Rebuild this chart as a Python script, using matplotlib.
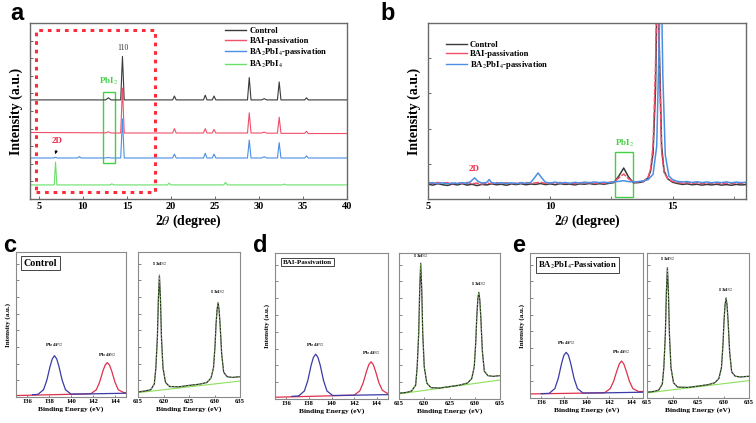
import matplotlib
matplotlib.use("Agg")
import matplotlib.pyplot as plt
from matplotlib.patches import Rectangle
from matplotlib.ticker import MultipleLocator, NullFormatter

plt.rcParams['font.family'] = ['Liberation Serif', 'DejaVu Serif']
plt.rcParams['mathtext.fontset'] = 'stix'

# ---------------- colours ----------------
C_BLACK = '#3a3a3a'
C_RED = '#f0506a'
C_BLUE = '#4a8fe6'
C_GREEN = '#6ae06a'
C_XBLUE = '#3a3aa8'
C_XRED = '#e0304c'
C_FIT = '#8be05a'
SPINE = '#6a6a6a'

# ---------------- panel a data (XRD, offset traces) ----------------
a_series = ['Control', 'BAI-passivation', r'BA$_2$PbI$_4$-passivation', r'BA$_2$PbI$_4$']
a_ctrl_x = [4, 12.6, 12.9, 13.2, 14.3, 14.5, 14.7, 20.2, 20.4, 20.6, 23.7, 23.9, 24.1, 24.7, 24.9, 25.1,
            28.7, 28.9, 29.1, 30.3, 30.6, 30.9, 32.1, 32.3, 32.5, 35.2, 35.4, 35.6, 40]
a_ctrl_y = [0.563, 0.563, 0.575, 0.563, 0.563, 0.81, 0.563, 0.563, 0.585, 0.563, 0.563, 0.59, 0.563, 0.563, 0.585, 0.563,
            0.563, 0.69, 0.563, 0.563, 0.57, 0.563, 0.563, 0.665, 0.563, 0.563, 0.575, 0.563, 0.563]
a_bai_x = [4, 12.6, 12.9, 13.2, 14.3, 14.5, 14.7, 20.2, 20.4, 20.6, 23.7, 23.9, 24.1, 24.7, 24.9, 25.1,
           28.7, 28.9, 29.1, 30.3, 30.6, 30.9, 32.1, 32.3, 32.5, 35.2, 35.4, 35.6, 40]
a_bai_y = [0.378, 0.376, 0.382, 0.375, 0.375, 0.63, 0.375, 0.375, 0.40, 0.375, 0.375, 0.40, 0.375, 0.375, 0.395, 0.375,
           0.375, 0.49, 0.375, 0.375, 0.38, 0.374, 0.374, 0.465, 0.373, 0.373, 0.385, 0.372, 0.372]
a_bap_x = [4, 6.7, 6.9, 7.1, 9.4, 9.6, 9.8, 12.6, 12.9, 13.2, 14.3, 14.5, 14.7, 20.2, 20.4, 20.6, 23.7, 23.9, 24.1,
           24.7, 24.9, 25.1, 28.7, 28.9, 29.1, 30.3, 30.6, 30.9, 32.1, 32.3, 32.5, 35.2, 35.4, 35.6, 40]
a_bap_y = [0.233, 0.233, 0.237, 0.233, 0.233, 0.241, 0.233, 0.233, 0.236, 0.233, 0.233, 0.455, 0.233, 0.233, 0.255, 0.233,
           0.233, 0.26, 0.233, 0.233, 0.255, 0.233, 0.233, 0.335, 0.233, 0.233, 0.24, 0.233, 0.233, 0.32, 0.233,
           0.233, 0.245, 0.233, 0.233]
a_2d_x = [4, 6.75, 6.9, 7.05, 13.1, 13.3, 13.5, 19.6, 19.8, 20.0, 26.0, 26.2, 26.4, 32.7, 32.9, 33.1, 40]
a_2d_y = [0.08, 0.08, 0.21, 0.08, 0.08, 0.086, 0.08, 0.08, 0.09, 0.08, 0.08, 0.095, 0.08, 0.08, 0.085, 0.08, 0.08]

# ---------------- panel b data (zoomed XRD, low angle) ----------------
b_ctrl_x = [5.0, 5.2, 5.4, 5.6, 5.8, 6.0, 6.2, 6.4, 6.6, 6.8, 7.0, 7.2, 7.4, 7.6, 7.8, 8.0, 8.2, 8.4, 8.6, 8.8,
            9.0, 9.2, 9.4, 9.6, 9.8, 10.0, 10.2, 10.4, 10.6, 10.8, 11.0, 11.2, 11.4, 11.6, 11.8, 12.0, 12.2, 12.4,
            12.6, 12.8, 13.0, 13.2, 13.4, 13.6, 13.8, 14.0, 14.1, 14.2, 14.3, 14.38, 14.45, 14.55, 14.65, 14.8,
            15.0, 15.2, 15.4, 15.6, 15.8, 16.0, 16.2, 16.4, 16.6, 16.8, 17.0, 17.2, 17.4, 17.6, 17.8, 18.0]
b_ctrl_y = [0.084, 0.079, 0.087, 0.081, 0.077, 0.085, 0.080, 0.087, 0.079, 0.084, 0.076, 0.083, 0.080, 0.086, 0.081,
            0.084, 0.078, 0.085, 0.082, 0.087, 0.081, 0.085, 0.083, 0.088, 0.082, 0.086, 0.081, 0.087, 0.083, 0.085,
            0.080, 0.086, 0.084, 0.088, 0.083, 0.087, 0.084, 0.089, 0.093, 0.13, 0.176, 0.125, 0.092, 0.093, 0.098,
            0.12, 0.16, 0.26, 0.62, 1.3, 0.9, 0.3, 0.16, 0.115, 0.095, 0.088, 0.083, 0.086, 0.081, 0.084, 0.079,
            0.083, 0.080, 0.084, 0.079, 0.082, 0.078, 0.083, 0.080, 0.082]
b_bai_x = b_ctrl_x
b_bai_y = [0.095, 0.088, 0.094, 0.089, 0.093, 0.087, 0.092, 0.088, 0.094, 0.087, 0.090, 0.085, 0.091, 0.087, 0.093,
           0.088, 0.092, 0.086, 0.091, 0.089, 0.094, 0.088, 0.092, 0.095, 0.089, 0.093, 0.088, 0.094, 0.089, 0.092,
           0.087, 0.093, 0.089, 0.094, 0.088, 0.092, 0.089, 0.095, 0.097, 0.12, 0.142, 0.115, 0.096, 0.097, 0.10,
           0.125, 0.17, 0.30, 0.75, 1.4, 0.8, 0.27, 0.15, 0.115, 0.1, 0.094, 0.09, 0.093, 0.088, 0.092, 0.087,
           0.091, 0.088, 0.092, 0.086, 0.091, 0.087, 0.092, 0.088, 0.091]
b_bap_x = [5.0, 5.2, 5.4, 5.6, 5.8, 6.0, 6.2, 6.4, 6.6, 6.75, 6.9, 7.05, 7.2, 7.4, 7.5, 7.6, 7.8, 8.0, 8.2, 8.4,
           8.6, 8.8, 9.0, 9.2, 9.35, 9.5, 9.65, 9.8, 10.0, 10.2, 10.4, 10.6, 10.8, 11.0, 11.2, 11.4, 11.6, 11.8,
           12.0, 12.2, 12.4, 12.6, 12.8, 13.0, 13.2, 13.4, 13.6, 13.8, 14.0, 14.2, 14.35, 14.45, 14.52, 14.6,
           14.7, 14.85, 15.0, 15.2, 15.4, 15.6, 15.8, 16.0, 16.2, 16.4, 16.6, 16.8, 17.0, 17.2, 17.4, 17.6,
           17.8, 18.0]
b_bap_y = [0.088, 0.093, 0.087, 0.092, 0.086, 0.091, 0.088, 0.093, 0.089, 0.10, 0.12, 0.10, 0.091, 0.094, 0.11,
           0.093, 0.089, 0.093, 0.088, 0.092, 0.087, 0.093, 0.089, 0.094, 0.12, 0.148, 0.12, 0.095, 0.091, 0.096,
           0.090, 0.094, 0.089, 0.095, 0.091, 0.096, 0.092, 0.097, 0.093, 0.096, 0.092, 0.098, 0.10, 0.104, 0.099,
           0.097, 0.099, 0.103, 0.11, 0.14, 0.3, 0.9, 1.4, 0.7, 0.25, 0.13, 0.11, 0.1, 0.097, 0.099, 0.094,
           0.098, 0.093, 0.097, 0.092, 0.096, 0.093, 0.097, 0.092, 0.096, 0.093, 0.095]

# ---------------- panels c-e data (XPS) ----------------
# Pb 4f region: blue = Pb 4f7/2 component, red = Pb 4f5/2 component
c_pb_blue_x = [136.5, 137.0, 137.5, 137.8, 138.1, 138.3, 138.5, 138.7, 138.9, 139.2, 139.5, 140.0, 142.0, 145.0]
c_pb_blue_y = [0.016, 0.018, 0.05, 0.115, 0.212, 0.263, 0.285, 0.263, 0.212, 0.115, 0.05, 0.02, 0.022, 0.026]
c_pb_red_x = [135.0, 141.8, 142.3, 142.6, 142.9, 143.1, 143.3, 143.5, 143.7, 144.0, 144.3, 144.8, 145.0]
c_pb_red_y = [0.010, 0.022, 0.05, 0.102, 0.179, 0.22, 0.237, 0.22, 0.179, 0.102, 0.05, 0.03, 0.03]
c_i_x = [615, 616.5, 617.5, 618.2, 618.5, 618.8, 619.0, 619.2, 619.4, 619.6, 619.9, 620.4, 621.2, 623, 625, 627,
         628.5, 629.3, 629.8, 630.1, 630.3, 630.5, 630.7, 630.9, 631.1, 631.4, 631.8, 632.5, 633.5, 635]
c_i_y = [0.035, 0.042, 0.05, 0.09, 0.2, 0.41, 0.68, 0.84, 0.68, 0.41, 0.2, 0.1, 0.072, 0.07, 0.08, 0.088,
         0.1, 0.13, 0.2, 0.35, 0.5, 0.6, 0.65, 0.6, 0.5, 0.3, 0.17, 0.14, 0.135, 0.14]

d_pb_blue_x = [136.5, 137.1, 137.6, 137.9, 138.2, 138.4, 138.6, 138.8, 139.0, 139.3, 139.6, 140.1, 142.0, 145.0]
d_pb_blue_y = [0.018, 0.021, 0.055, 0.125, 0.232, 0.285, 0.307, 0.285, 0.232, 0.125, 0.055, 0.024, 0.026, 0.03]
d_pb_red_x = [135.0, 142.0, 142.5, 142.8, 143.1, 143.3, 143.5, 143.7, 143.9, 144.2, 144.5, 144.9, 145.0]
d_pb_red_y = [0.012, 0.026, 0.055, 0.11, 0.19, 0.235, 0.255, 0.235, 0.19, 0.11, 0.06, 0.04, 0.04]
d_i_x = [615, 616.5, 617.5, 618.3, 618.6, 618.9, 619.1, 619.3, 619.5, 619.7, 620.0, 620.5, 621.3, 623, 625, 627,
         628.6, 629.4, 629.9, 630.2, 630.4, 630.6, 630.8, 631.0, 631.2, 631.5, 631.9, 632.6, 633.6, 635]
d_i_y = [0.04, 0.045, 0.055, 0.095, 0.22, 0.45, 0.75, 0.93, 0.75, 0.45, 0.22, 0.11, 0.078, 0.075, 0.085, 0.095,
         0.11, 0.14, 0.22, 0.39, 0.56, 0.68, 0.73, 0.68, 0.56, 0.33, 0.19, 0.16, 0.155, 0.16]

e_pb_blue_x = [136.0, 136.7, 137.2, 137.5, 137.8, 138.0, 138.2, 138.4, 138.6, 138.9, 139.2, 139.7, 142.0, 145.0]
e_pb_blue_y = [0.03, 0.032, 0.065, 0.135, 0.24, 0.295, 0.315, 0.295, 0.24, 0.135, 0.065, 0.034, 0.036, 0.04]
e_pb_red_x = [135.0, 141.6, 142.1, 142.4, 142.7, 142.9, 143.1, 143.3, 143.5, 143.8, 144.1, 144.6, 145.0]
e_pb_red_y = [0.028, 0.036, 0.065, 0.115, 0.19, 0.235, 0.255, 0.235, 0.19, 0.115, 0.065, 0.045, 0.045]
e_i_x = [615, 616.5, 617.3, 618.0, 618.3, 618.6, 618.8, 619.0, 619.2, 619.4, 619.7, 620.2, 621.0, 623, 625, 627,
         628.3, 629.1, 629.6, 629.9, 630.1, 630.3, 630.5, 630.7, 630.9, 631.2, 631.6, 632.3, 633.3, 635]
e_i_y = [0.04, 0.046, 0.055, 0.095, 0.21, 0.44, 0.73, 0.9, 0.73, 0.44, 0.21, 0.105, 0.075, 0.073, 0.082, 0.092,
         0.105, 0.135, 0.21, 0.37, 0.53, 0.64, 0.69, 0.64, 0.53, 0.32, 0.18, 0.15, 0.145, 0.15]

i_bg_x = [615, 635]
c_i_bg_y = [0.03, 0.11]
d_i_bg_y = [0.035, 0.13]
e_i_bg_y = [0.035, 0.12]

pb_ticks = [136, 138, 140, 142, 144]
i_ticks = [615, 620, 625, 630, 635]

# ---------------- figure ----------------
W, H = 756, 423
fig = plt.figure(figsize=(W / 100, H / 100), dpi=100)


def rect(x0, x1, y0, y1):
    return [x0 / W, 1 - y1 / H, (x1 - x0) / W, (y1 - y0) / H]


bold = dict(fontweight='bold')


def style_xrd(ax):
    for s in ax.spines.values():
        s.set_color(SPINE)
        s.set_linewidth(1.0)
    ax.tick_params(axis='both', direction='in', length=2.5, width=0.7, color=SPINE, labelsize=7.5, pad=2)
    ax.yaxis.set_major_formatter(NullFormatter())
    for lab in ax.get_xticklabels():
        lab.set_fontweight('bold')


# ---- panel a ----
ax = fig.add_axes(rect(30, 347, 23, 199))
ax.plot(a_2d_x, a_2d_y, color=C_GREEN, lw=0.8)
ax.plot(a_bap_x, a_bap_y, color=C_BLUE, lw=0.8)
ax.plot(a_bai_x, a_bai_y, color=C_RED, lw=0.8)
ax.plot(a_ctrl_x, a_ctrl_y, color=C_BLACK, lw=0.8)
ax.set_xlim(4, 40)
ax.set_ylim(0, 1)
ax.set_xticks([5, 10, 15, 20, 25, 30, 35, 40])
ax.yaxis.set_major_locator(MultipleLocator(0.1))
style_xrd(ax)
ax.set_xlabel(r'2$\theta$ (degree)', fontsize=10, labelpad=1, **bold)
ax.set_ylabel('Intensity (a.u.)', fontsize=10, labelpad=3, **bold)
ax.add_patch(Rectangle((4.66, 0.04), 18.2 - 4.66, 0.92, fill=False, ec='#ff2a3a', lw=2.2,
                       ls=(0, (1.2, 1.6))))
ax.add_patch(Rectangle((12.25, 0.205), 1.35, 0.403, fill=False, ec='#44d044', lw=1.0))
ax.text(14.5, 0.835, '110', fontsize=5.5, ha='center', va='bottom', color='#333333')
ax.text(12.95, 0.635, r'PbI$_2$', fontsize=6.5, ha='center', va='bottom', color='#44d044', **bold)
ax.text(7.1, 0.305, '2D', fontsize=6.5, ha='center', va='bottom', color='#f03050', **bold)
ax.annotate('', xy=(6.75, 0.24), xytext=(7.1, 0.29),
            arrowprops=dict(arrowstyle='-|>', color='black', lw=0.6, mutation_scale=4))
h = [plt.Line2D([], [], color=c, lw=1.0) for c in (C_BLACK, C_RED, C_BLUE, C_GREEN)]
leg = ax.legend(h, a_series, loc='upper left', bbox_to_anchor=(0.6, 1.005), frameon=False,
                prop=dict(family='Liberation Serif', weight='bold', size=6.2), handlelength=2.4,
                handletextpad=0.4, labelspacing=0.15, borderaxespad=0.2)
fig.text(10 / W, 1 - 14 / H, 'a', fontsize=17, fontweight='bold', family='Liberation Sans', va='center')

# ---- panel b ----
ax = fig.add_axes(rect(428, 746, 23, 199))
ax.plot(b_ctrl_x, b_ctrl_y, color=C_BLACK, lw=1.1)
ax.plot(b_bai_x, b_bai_y, color=C_RED, lw=1.1, ls=(0, (4, 1)))
ax.plot(b_bap_x, b_bap_y, color=C_BLUE, lw=1.1)
ax.set_xlim(5, 18)
ax.set_ylim(0, 1)
ax.set_xticks([5, 10, 15])
ax.xaxis.set_minor_locator(MultipleLocator(2.5))
ax.yaxis.set_major_locator(MultipleLocator(0.2))
style_xrd(ax)
ax.tick_params(axis='x', which='minor', direction='in', length=2, color=SPINE)
ax.set_xlabel(r'2$\theta$ (degree)', fontsize=10, labelpad=1, **bold)
ax.set_ylabel('Intensity (a.u.)', fontsize=10, labelpad=3, **bold)
ax.add_patch(Rectangle((12.66, 0.011), 0.74, 0.256, fill=False, ec='#44d044', lw=1.0))
ax.text(13.03, 0.285, r'PbI$_2$', fontsize=6.5, ha='center', va='bottom', color='#44d044', **bold)
ax.text(6.9, 0.15, '2D', fontsize=6.5, ha='center', va='bottom', color='#f03050', **bold)
h = [plt.Line2D([], [], color=c, lw=1.0) for c in (C_BLACK, C_RED, C_BLUE)]
ax.legend(h, a_series[:3], loc='upper left', bbox_to_anchor=(0.04, 0.93), frameon=False,
          prop=dict(family='Liberation Serif', weight='bold', size=6.2), handlelength=2.4,
          handletextpad=0.4, labelspacing=0.15, borderaxespad=0.2)
fig.text(380 / W, 1 - 14 / H, 'b', fontsize=17, fontweight='bold', family='Liberation Sans', va='center')


# ---- panels c-e ----
def style_xps(ax, ticks, xlim):
    for s in ax.spines.values():
        s.set_color('#8a8a8a')
        s.set_linewidth(0.8)
    ax.set_xlim(*xlim)
    ax.set_ylim(0, 1)
    ax.set_xticks(ticks)
    ax.yaxis.set_major_locator(MultipleLocator(0.115))
    ax.yaxis.set_major_formatter(NullFormatter())
    ax.tick_params(axis='both', direction='in', length=1.8, width=0.5, color='#555555', labelsize=4.8, pad=1.5)
    for lab in ax.get_xticklabels():
        lab.set_fontweight('bold')
    ax.set_xlabel('Binding Energy (eV)', fontsize=5.3, labelpad=1.5, **bold)


def pb_panel(r, bx, by, rx, ry, label, lab_size, t1, t2):
    ax = fig.add_axes(r)
    ax.plot(rx, ry, color=C_XRED, lw=0.9)
    ax.plot(bx, by, color=C_XBLUE, lw=0.9)
    style_xps(ax, pb_ticks, (135, 145))
    ax.set_ylabel('Intensity (a.u.)', fontsize=5.0, labelpad=2, **bold)
    ax.text(0.07, 0.955, label, transform=ax.transAxes, fontsize=lab_size, ha='left', va='top',
            bbox=dict(boxstyle='square,pad=0.25', fc='white', ec='#444444', lw=0.7), **bold)
    ax.text(bx[6], t1, r'Pb 4f$_{7/2}$', fontsize=3.8, ha='center', va='bottom', **bold)
    ax.text(rx[6], t2, r'Pb 4f$_{5/2}$', fontsize=3.8, ha='center', va='bottom', **bold)
    return ax


def i_panel(r, x, y, bg, t1, t2, p1, p2):
    ax = fig.add_axes(r)
    ax.plot(i_bg_x, bg, color=C_FIT, lw=0.8)
    ax.plot(x, y, color='#2a2a2a', lw=0.9)
    ax.plot(x, y, color=C_FIT, lw=0.5, ls=(0, (2, 3)))
    style_xps(ax, i_ticks, (615, 635))
    ax.text(p1, t1, r'I 3d$_{5/2}$', fontsize=3.8, ha='center', va='bottom', **bold)
    ax.text(p2, t2, r'I 3d$_{3/2}$', fontsize=3.8, ha='center', va='bottom', **bold)
    return ax


pb_panel(rect(16, 126, 252, 397), c_pb_blue_x, c_pb_blue_y, c_pb_red_x, c_pb_red_y, 'Control', 7.2, 0.33, 0.265)
i_panel(rect(138, 240, 252, 397), c_i_x, c_i_y, c_i_bg_y, 0.89, 0.7, 619.2, 630.7)
fig.text(3 / W, 1 - 245 / H, 'c', fontsize=17, fontweight='bold', family='Liberation Sans', va='center')

pb_panel(rect(275, 388, 253, 399), d_pb_blue_x, d_pb_blue_y, d_pb_red_x, d_pb_red_y, 'BAI-Passivation', 5.0,
         0.345, 0.29)
i_panel(rect(399, 500, 253, 399), d_i_x, d_i_y, d_i_bg_y, 0.955, 0.76, 619.3, 630.8)
fig.text(253 / W, 1 - 245 / H, 'd', fontsize=17, fontweight='bold', family='Liberation Sans', va='center')

pb_panel(rect(530, 643, 253, 398), e_pb_blue_x, e_pb_blue_y, e_pb_red_x, e_pb_red_y,
         r'BA$_2$PbI$_4$-Passivation', 6.2, 0.35, 0.29)
i_panel(rect(647, 749, 253, 398), e_i_x, e_i_y, e_i_bg_y, 0.93, 0.72, 619.0, 630.5)
fig.text(512 / W, 1 - 245 / H, 'e', fontsize=17, fontweight='bold', family='Liberation Sans', va='center')

fig.savefig('out.png', dpi=100)
